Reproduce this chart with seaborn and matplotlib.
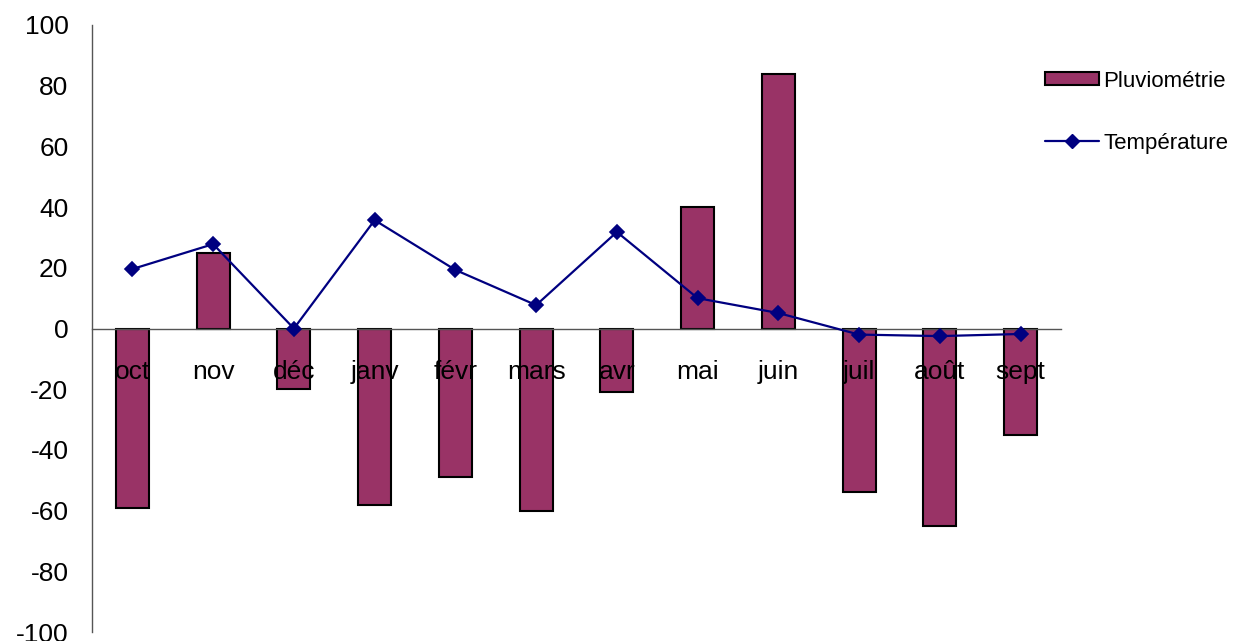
import matplotlib
matplotlib.use("Agg")
import matplotlib.pyplot as plt
import matplotlib.ticker as mticker
from matplotlib.patches import Patch
from matplotlib.lines import Line2D
import numpy as np
import pandas as pd
import seaborn as sns

months = ['oct', 'nov', 'déc', 'janv', 'févr', 'mars', 'avr', 'mai', 'juin', 'juil', 'août', 'sept']
pluvio = [-59, 25, -20, -58, -49, -60, -21, 40, 84, -54, -65, -35]
temperature = [19.6, 27.8, 0, 35.7, 19.3, 7.7, 31.8, 10, 5.1, -2, -2.5, -1.8]

BAR_COLOR = '#993366'
LINE_COLOR = '#000080'
AXIS_COLOR = '#555555'

sns.set_style("white")
plt.rcParams['font.family'] = ['Liberation Sans', 'DejaVu Sans']
plt.rcParams['axes.unicode_minus'] = False
plt.rcParams['text.color'] = 'black'

df = pd.DataFrame({'mois': months, 'pluvio': pluvio, 'temp': temperature})

fig = plt.figure(figsize=(12.37, 6.41), dpi=100)
ax = fig.add_axes([0.0744, 0.014, 0.7833, 0.947])

sns.barplot(data=df, x='mois', y='pluvio', color=BAR_COLOR, edgecolor='black',
            linewidth=1.5, width=0.41, saturation=1, ax=ax, zorder=1)
sns.pointplot(data=df, x='mois', y='temp', color=LINE_COLOR, marker='D',
              markersize=7, linewidth=1.6, errorbar=None, ax=ax)
for ln in ax.lines:
    ln.set_zorder(4)
for c in ax.collections:
    c.set_zorder(4)

ax.set_ylim(-100, 100)
ax.set_xlim(-0.5, len(months) - 0.5)
ax.set_yticks(np.arange(-100, 101, 20))
ax.set_xlabel('')
ax.set_ylabel('')

# axes: x axis runs along zero
for s in ['top', 'right']:
    ax.spines[s].set_visible(False)
ax.spines['bottom'].set_position(('data', 0))
for s in ['left', 'bottom']:
    ax.spines[s].set_color(AXIS_COLOR)
    ax.spines[s].set_linewidth(1)
    ax.spines[s].set_zorder(3)
ax.xaxis.set_zorder(3)

ax.xaxis.set_minor_locator(mticker.FixedLocator(np.arange(-0.5, len(months), 1.0)))
ax.tick_params(axis='x', which='major', length=0, pad=23, labelsize=19, labelcolor='black')
ax.tick_params(axis='x', which='minor', length=10, direction='inout', color=AXIS_COLOR, width=1)
ax.tick_params(axis='y', which='major', length=10, direction='inout', color=AXIS_COLOR,
               width=1, labelsize=19, pad=12, labelcolor='black')

handles = [Patch(facecolor=BAR_COLOR, edgecolor='black', linewidth=1.5),
           Line2D([0], [0], color=LINE_COLOR, marker='D', markersize=7, linewidth=1.6)]
fig.legend(handles, ['Pluviométrie', 'Température'], loc='upper left',
           bbox_to_anchor=(0.829, 0.921), frameon=False, fontsize=16,
           handlelength=2.4, handleheight=0.55, handletextpad=0.2, labelspacing=1.85)

fig.savefig('out.png', dpi=100)
